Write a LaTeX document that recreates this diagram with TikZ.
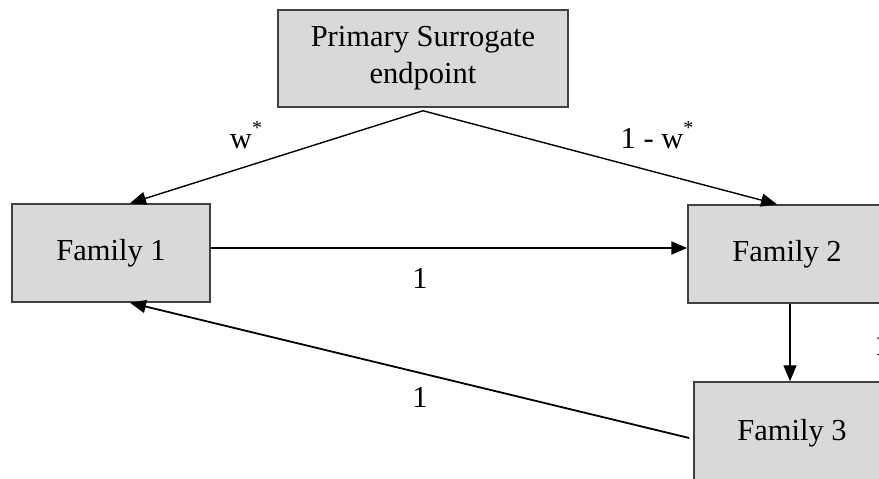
\documentclass[tikz,border=0pt]{standalone}
\usepackage{fontspec}
\setmainfont{Liberation Serif}
\usetikzlibrary{arrows.meta}
\definecolor{boxgray}{HTML}{D9D9D9}
\definecolor{edgegray}{HTML}{404040}
\begin{document}
\begin{tikzpicture}[x=1pt,y=-1pt,
  famblock/.style={draw=edgegray,line width=1.5pt,fill=boxgray,rectangle,inner sep=0pt,
    font=\fontsize{30.5}{37}\selectfont,align=center},
  conn/.style={line width=1.4pt,-{Triangle[length=16pt,width=13pt]}},
  lbl/.style={font=\fontsize{30.5}{37}\selectfont,inner sep=0pt}]
\path[use as bounding box,clip] (0,0) rectangle (879,479);
\fill[white] (0,0) rectangle (879,479);
\node[famblock,minimum width=290pt,minimum height=97pt] (P) at (423,58.5) {Primary Surrogate\\endpoint};
\node[famblock,minimum width=198pt,minimum height=98pt] (F1) at (111,253) {Family 1};
\node[famblock,minimum width=198pt,minimum height=98pt] (F2) at (787,254) {Family 2};
\node[famblock,minimum width=196pt,minimum height=102pt] (F3) at (792,433) {Family 3};
\draw[conn] ([yshift=-3pt]P.south) -- ([xshift=19pt]F1.north);
\draw[conn] ([yshift=-3pt]P.south) -- ([xshift=-10pt]F2.north);
\draw[conn,line width=2pt] ([yshift=5pt]F1.east) -- ([yshift=5pt]F1.east -| F2.west);
\draw[conn] ([xshift=3pt]F2.south) -- ([xshift=3pt]F2.south |- F3.north);
\draw[conn,line width=1.8pt] ([xshift=-4pt,yshift=-5pt]F3.west) -- ([xshift=19pt]F1.south);
\node[lbl] (lw) at (246,135) {w\raisebox{0.45em}{\fontsize{20}{20}\selectfont *}};
\node[lbl] (lw2) at (657,135) {1 - w\raisebox{0.45em}{\fontsize{20}{20}\selectfont *}};
\node[lbl] (l12) at (420,278) {1};
\node[lbl] (l31) at (420,397) {1};
\node[lbl] (l23) at (882,345) {1};
\end{tikzpicture}
\end{document}
